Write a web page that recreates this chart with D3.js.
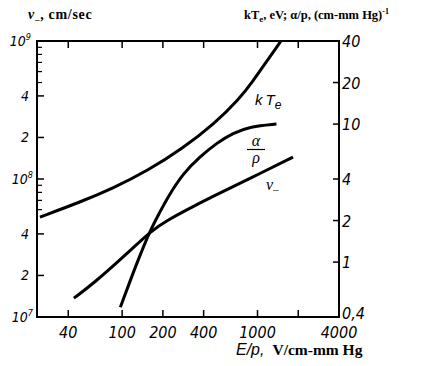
<!DOCTYPE html>
<html>
<head>
<meta charset="utf-8">
<script src="https://cdn.jsdelivr.net/npm/d3@7"></script>
<style>
	body { margin: 0; background: #fff; }
	svg { display: block; }
	.tick-label { font-family: 'Liberation Sans Narrow', 'DejaVu Sans Condensed', sans-serif; font-style: italic; fill: #000; }
	.title { font-family: 'Liberation Serif', serif; font-weight: bold; fill: #000; }
</style>
</head>
<body>
<svg id="chart"></svg>
<script>
const WIDTH = 422;
const HEIGHT = 366;

// E/p, V/cm-mm Hg
const xTicks = [40, 100, 200, 400, 1000, 2000, 4000];
const xTickLabels = ['40', '100', '200', '400', '1000', '', '4000'];

// left axis: v_-, cm/sec
const leftMajor = [1e7, 2e7, 4e7, 1e8, 2e8, 4e8, 1e9];
const leftMinor = [6e7, 7e7, 8e7, 9e7, 5e8, 6e8, 7e8, 8e8, 9e8];

// right axis: kTe, eV; alpha/p
const rightTicks = [0.4, 1, 2, 4, 10, 20, 40];
const rightTickLabels = ['0,4', '1', '2', '4', '10', '20', '40'];

// kT_e curve (right axis)
const kteEp = [24.7, 49, 86, 153, 281, 477, 742, 925, 1135, 1490];
const kteVal = [2.12, 2.72, 3.44, 4.57, 6.7, 10.0, 15.4, 20.5, 27.3, 40];

// alpha/p curve (right axis)
const alphaEp = [97, 128, 161, 190, 215, 282, 376, 500, 660, 880, 1380];
const alphaVal = [0.47, 0.98, 1.7, 2.3, 2.9, 4.4, 5.8, 7.3, 8.6, 9.6, 10];

// drift velocity v_- (left axis)
const vEp = [44, 61.5, 108, 166, 219, 283, 499, 878, 1830];
const vVal = [1.37e7, 1.75e7, 2.86e7, 4.27e7, 5.05e7, 5.81e7, 7.72e7, 1.008e8, 1.44e8];

const plot = { left: 37, right: 339, top: 41, bottom: 317 };

const svg = d3.select('#chart').attr('width', WIDTH).attr('height', HEIGHT);

const x = d3.scaleLog().domain([23.5, 4000]).range([plot.left, plot.right]);
const yLeft = d3.scaleLog().domain([1e7, 1e9]).range([plot.bottom, plot.top]);
const yRight = d3.scaleLog().domain([0.4, 40]).range([plot.bottom, plot.top]);

const canvas = svg.append('g');

// frame
canvas.append('rect')
	.attr('x', plot.left)
	.attr('y', plot.top)
	.attr('width', plot.right - plot.left)
	.attr('height', plot.bottom - plot.top)
	.attr('fill', 'none')
	.attr('stroke', '#000')
	.attr('stroke-width', 2);

// x ticks, bottom and top, pointing inward
const xTickG = canvas.append('g');
xTicks.filter((d) => d < 4000).forEach((d) => {
	xTickG.append('line')
		.attr('x1', x(d)).attr('x2', x(d))
		.attr('y1', plot.bottom).attr('y2', plot.bottom - 7)
		.attr('stroke', '#000').attr('stroke-width', 1.5);
	xTickG.append('line')
		.attr('x1', x(d)).attr('x2', x(d))
		.attr('y1', plot.top).attr('y2', plot.top + 7)
		.attr('stroke', '#000').attr('stroke-width', 1.5);
});
canvas.append('g')
	.selectAll('text')
	.data(xTicks)
	.enter()
	.append('text')
	.attr('class', 'tick-label')
	.attr('x', (d) => x(d))
	.attr('y', 338)
	.attr('text-anchor', 'middle')
	.attr('font-size', '16px')
	.text((d, i) => xTickLabels[i]);

// left ticks
leftMajor.forEach((d) => {
	canvas.append('line')
		.attr('x1', plot.left).attr('x2', plot.left + 7)
		.attr('y1', yLeft(d)).attr('y2', yLeft(d))
		.attr('stroke', '#000').attr('stroke-width', 1.5);
});
leftMinor.forEach((d) => {
	canvas.append('line')
		.attr('x1', plot.left).attr('x2', plot.left + 5)
		.attr('y1', yLeft(d)).attr('y2', yLeft(d))
		.attr('stroke', '#000').attr('stroke-width', 1.2);
});
leftMajor.forEach((d) => {
	const exp = Math.floor(Math.log10(d) + 1e-9);
	const mant = Math.round(d / Math.pow(10, exp));
	if (mant === 1) {
		const t = canvas.append('text')
			.attr('class', 'tick-label')
			.attr('x', exp === 9 ? 31 : 33)
			.attr('y', yLeft(d) + 5)
			.attr('text-anchor', 'end')
			.attr('font-size', '14px');
		t.append('tspan').text('10');
		t.append('tspan').attr('font-size', '9px').attr('dy', -6).text(exp);
	} else {
		canvas.append('text')
			.attr('class', 'tick-label')
			.attr('x', 29)
			.attr('y', yLeft(d) + 5)
			.attr('text-anchor', 'end')
			.attr('font-size', '14px')
			.text(mant);
	}
});

// right ticks
rightTicks.forEach((d, i) => {
	if (i > 0 && i < rightTicks.length - 1) {
		canvas.append('line')
			.attr('x1', plot.right).attr('x2', plot.right - 6)
			.attr('y1', yRight(d)).attr('y2', yRight(d))
			.attr('stroke', '#000').attr('stroke-width', 1.5);
	}
	canvas.append('text')
		.attr('class', 'tick-label')
		.attr('x', 342)
		.attr('y', i === 0 ? yRight(d) + 2 : yRight(d) + 6)
		.attr('text-anchor', 'start')
		.attr('font-size', '16px')
		.text(rightTickLabels[i]);
});

// curves
const line = d3.line().curve(d3.curveBasis);

function drawCurve(xs, ys, yScale) {
	const pts = xs.map((d, i) => [x(d), yScale(ys[i])]);
	canvas.append('path')
		.attr('d', line(pts))
		.attr('fill', 'none')
		.attr('stroke', '#000')
		.attr('stroke-width', 3)
		.attr('stroke-linecap', 'butt');
}
drawCurve(kteEp, kteVal, yRight);
drawCurve(alphaEp, alphaVal, yRight);
drawCurve(vEp, vVal, yLeft);

// curve labels
const kt = canvas.append('text')
	.attr('x', 255)
	.attr('y', 105)
	.attr('font-family', "'Liberation Sans', sans-serif")
	.attr('font-style', 'italic')
	.attr('font-size', '15px');
kt.append('tspan').text('k');
kt.append('tspan').attr('dx', 3).text('T');
kt.append('tspan').attr('dy', 4).attr('font-size', '12px').text('e');

canvas.append('text')
	.attr('x', 256)
	.attr('y', 146)
	.attr('text-anchor', 'middle')
	.attr('font-family', "'Liberation Serif', serif")
	.attr('font-style', 'italic')
	.attr('font-size', '16px')
	.text('α');
canvas.append('line')
	.attr('x1', 247).attr('x2', 265)
	.attr('y1', 149.5).attr('y2', 149.5)
	.attr('stroke', '#000').attr('stroke-width', 1.2);
canvas.append('text')
	.attr('x', 256)
	.attr('y', 163)
	.attr('text-anchor', 'middle')
	.attr('font-family', "'Liberation Serif', serif")
	.attr('font-style', 'italic')
	.attr('font-size', '16px')
	.text('ρ');

const vl = canvas.append('text')
	.attr('x', 266)
	.attr('y', 190)
	.attr('font-family', "'Liberation Serif', serif")
	.attr('font-style', 'italic')
	.attr('font-size', '16px');
vl.append('tspan').text('v');
vl.append('tspan').attr('dy', 3).attr('font-size', '11px').text('–');

// axis titles
const tl = svg.append('text')
	.attr('class', 'title')
	.attr('x', 28)
	.attr('y', 19)
	.attr('font-size', '14px')
	.attr('letter-spacing', '0.7px');
tl.append('tspan').attr('font-style', 'italic').text('v');
tl.append('tspan').attr('dy', 3).attr('font-size', '9px').text('–');
tl.append('tspan').attr('dy', -3).text(', cm/sec');

const tr = svg.append('text')
	.attr('class', 'title')
	.attr('x', 244)
	.attr('y', 19)
	.attr('font-size', '12.5px');
tr.append('tspan').text('kT');
tr.append('tspan').attr('dy', 3).attr('font-size', '9px').text('e');
tr.append('tspan').attr('dy', -3).text(', eV; α/p, (cm-mm Hg)');
tr.append('tspan').attr('dy', -5).attr('font-size', '8px').text('-1');

const bt = svg.append('text')
	.attr('x', 236)
	.attr('y', 355);
bt.append('tspan')
	.attr('font-family', "'Liberation Sans Narrow', sans-serif")
	.attr('font-style', 'italic')
	.attr('font-size', '16px')
	.text('E/p,');
bt.append('tspan')
	.attr('class', 'title')
	.attr('dx', 8)
	.attr('font-size', '15.5px')
	.text('V/cm-mm Hg');
</script>
</body>
</html>
